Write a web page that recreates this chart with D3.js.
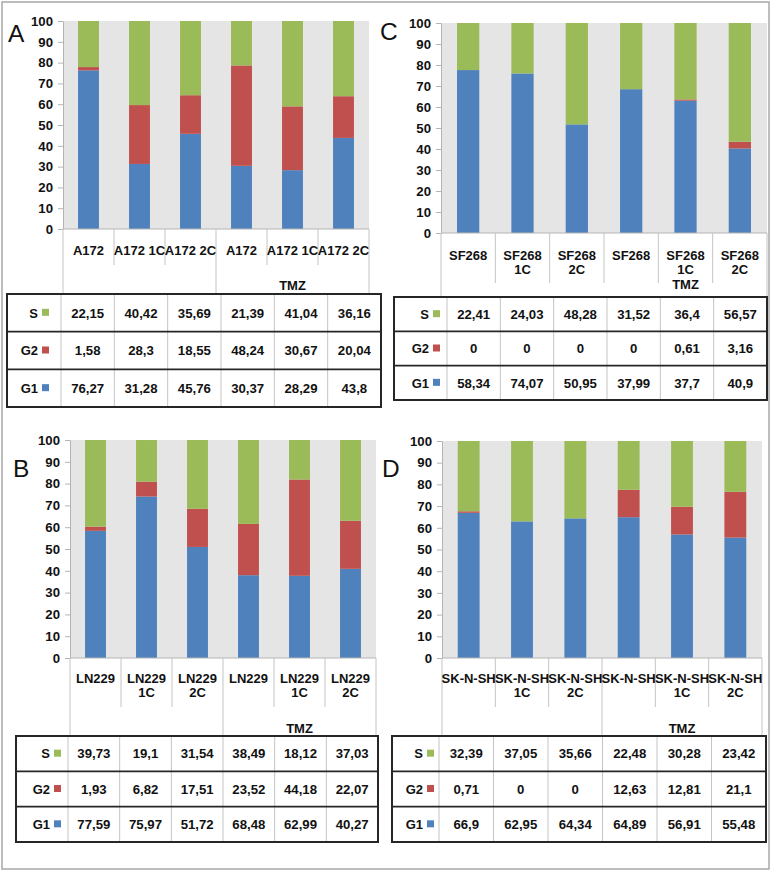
<!DOCTYPE html>
<html><head><meta charset="utf-8">
<script src="https://cdn.jsdelivr.net/npm/d3@7/dist/d3.min.js"></script>
<style>
html,body{margin:0;padding:0;background:#fff;}
svg{display:block;font-family:"Liberation Sans",Arial,sans-serif;}
</style></head>
<body><svg id="c" width="772" height="872"></svg>
<script>
// ---------- data ----------
const phases = ["S", "G2", "G1"];
const stackKeys = ["G1", "G2", "S"];
const yTicks = [0, 10, 20, 30, 40, 50, 60, 70, 80, 90, 100];

const catsA = ["A172", "A172 1C", "A172 2C", "A172", "A172 1C", "A172 2C"];
const catsB = ["LN229", "LN229\n1C", "LN229\n2C", "LN229", "LN229\n1C", "LN229\n2C"];
const catsC = ["SF268", "SF268\n1C", "SF268\n2C", "SF268", "SF268\n1C\nTMZ", "SF268\n2C"];
const catsD = ["SK-N-SH", "SK-N-SH\n1C", "SK-N-SH\n2C", "SK-N-SH", "SK-N-SH\n1C", "SK-N-SH\n2C"];
const groupLabel = "TMZ";

// table values (as printed)
const tableA_S  = [22.15, 40.42, 35.69, 21.39, 41.04, 36.16];
const tableA_G2 = [1.58, 28.3, 18.55, 48.24, 30.67, 20.04];
const tableA_G1 = [76.27, 31.28, 45.76, 30.37, 28.29, 43.8];

const tableC_S  = [22.41, 24.03, 48.28, 31.52, 36.4, 56.57];
const tableC_G2 = [0, 0, 0, 0, 0.61, 3.16];
const tableC_G1 = [58.34, 74.07, 50.95, 37.99, 37.7, 40.9];

const tableB_S  = [39.73, 19.1, 31.54, 38.49, 18.12, 37.03];
const tableB_G2 = [1.93, 6.82, 17.51, 23.52, 44.18, 22.07];
const tableB_G1 = [77.59, 75.97, 51.72, 68.48, 62.99, 40.27];

const tableD_S  = [32.39, 37.05, 35.66, 22.48, 30.28, 23.42];
const tableD_G2 = [0.71, 0, 0, 12.63, 12.81, 21.1];
const tableD_G1 = [66.9, 62.95, 64.34, 64.89, 56.91, 55.48];

// bar values (as drawn)
const barsA_G1 = [76.27, 31.28, 45.76, 30.37, 28.29, 43.8];
const barsA_G2 = [1.58, 28.3, 18.55, 48.24, 30.67, 20.04];
const barsA_S  = [22.15, 40.42, 35.69, 21.39, 41.04, 36.16];

const barsB_G1 = [58.34, 74.07, 50.95, 37.99, 37.7, 40.9];
const barsB_G2 = [1.93, 6.82, 17.51, 23.52, 44.18, 22.07];
const barsB_S  = [39.73, 19.1, 31.54, 38.49, 18.12, 37.03];

const barsC_G1 = [77.59, 75.97, 51.72, 68.48, 62.99, 40.27];
const barsC_G2 = [0, 0, 0, 0, 0.61, 3.16];
const barsC_S  = [22.41, 24.03, 48.28, 31.52, 36.4, 56.57];

const barsD_G1 = [66.9, 62.95, 64.34, 64.89, 56.91, 55.48];
const barsD_G2 = [0.71, 0, 0, 12.63, 12.81, 21.1];
const barsD_S  = [32.39, 37.05, 35.66, 22.48, 30.28, 23.42];

// ---------- styles ----------
const colors = {G1: "#4F81BD", G2: "#C0504D", S: "#9BBB59"};
const plotBg = "#e5e5e5";
const axisGray = "#b4b4b4";
const sepGray = "#c4c4c4";
const dark = "#262626";

const panels = [
  {letter: "A", lx: 8, ly: 42, cats: catsA, grouped: true,
   bars: {G1: barsA_G1, G2: barsA_G2, S: barsA_S},
   table: {S: tableA_S, G2: tableA_G2, G1: tableA_G1},
   px0: 63, px1: 369, py0: 21, py1: 229, labY: 250, innerBottom: 265, grpY: 285, tableTop: 294,
   tx0: 7, tx1: 381, tlab: 61, ty1: 407, gap: 12},
  {letter: "C", lx: 380, ly: 40, cats: catsC, grouped: false,
   bars: {G1: barsC_G1, G2: barsC_G2, S: barsC_S},
   table: {S: tableC_S, G2: tableC_G2, G1: tableC_G1},
   px0: 441, px1: 767, py0: 23, py1: 233, labY: 255, innerBottom: 283, grpY: 0, tableTop: 297,
   tx0: 394, tx1: 767, tlab: 447, ty1: 400, gap: 7},
  {letter: "B", lx: 13, ly: 477, cats: catsB, grouped: true,
   bars: {G1: barsB_G1, G2: barsB_G2, S: barsB_S},
   table: {S: tableB_S, G2: tableB_G2, G1: tableB_G1},
   px0: 70, px1: 376, py0: 440, py1: 658, labY: 678, innerBottom: 707, grpY: 728, tableTop: 736,
   tx0: 16, tx1: 378, tlab: 68, ty1: 842, gap: 7},
  {letter: "D", lx: 382, ly: 477, cats: catsD, grouped: true,
   bars: {G1: barsD_G1, G2: barsD_G2, S: barsD_S},
   table: {S: tableD_S, G2: tableD_G2, G1: tableD_G1},
   px0: 442, px1: 762, py0: 441, py1: 658, labY: 678, innerBottom: 707, grpY: 728, tableTop: 736,
   tx0: 392, tx1: 766, tlab: 439, ty1: 842, gap: 5}
];

const svg = d3.select("#c");
svg.append("rect").attr("x", 2).attr("y", 2).attr("width", 767).attr("height", 867)
  .attr("fill", "none").attr("stroke", "#a8a8a8").attr("stroke-width", 1.5);

const fmt = v => String(v).replace(".", ",");

panels.forEach(p => {
  const g = svg.append("g");
  const n = p.cats.length;
  const x = d3.scaleBand().domain(d3.range(n)).range([p.px0, p.px1]).padding(0);
  const y = d3.scaleLinear().domain([0, 100]).range([p.py1, p.py0]);
  const bw = x.bandwidth();

  // letter
  g.append("text").attr("x", p.lx).attr("y", p.ly).attr("font-size", 24.5).attr("fill", "#111").text(p.letter);

  // plot background
  g.append("rect").attr("x", p.px0).attr("y", p.py0).attr("width", p.px1 - p.px0).attr("height", p.py1 - p.py0)
    .attr("fill", plotBg);

  // stacked bars
  const rows = d3.range(n).map(i => ({i, G1: p.bars.G1[i], G2: p.bars.G2[i], S: p.bars.S[i]}));
  const series = d3.stack().keys(stackKeys)(rows);
  g.selectAll(null).data(series).join("g").attr("fill", d => colors[d.key])
    .selectAll("rect").data(d => d).join("rect")
    .attr("x", d => x(d.data.i) + bw * 0.295)
    .attr("width", bw * 0.41)
    .attr("y", d => y(d[1]))
    .attr("height", d => Math.max(0, y(d[0]) - y(d[1])));

  // y axis
  const ax = g.append("g").attr("transform", `translate(${p.px0},0)`)
    .call(d3.axisLeft(y).tickValues(yTicks).tickSize(5).tickSizeOuter(0).tickPadding(5));
  ax.select(".domain").attr("stroke", axisGray);
  ax.selectAll(".tick line").attr("stroke", axisGray);
  ax.selectAll(".tick text").attr("font-size", 13.2).attr("font-weight", "bold").attr("fill", "#111")
    .attr("font-family", "Liberation Sans, Arial, sans-serif");

  // category axis lines
  g.append("line").attr("x1", p.px0).attr("x2", p.px1).attr("y1", p.py1).attr("y2", p.py1)
    .attr("stroke", axisGray);
  d3.range(n + 1).forEach(k => {
    const xx = k < n ? x(k) : p.px1;
    const long = k === 0 || k === n || (p.grouped && k === n / 2);
    g.append("line").attr("x1", xx).attr("x2", xx).attr("y1", p.py1)
      .attr("y2", long ? p.tableTop : p.innerBottom).attr("stroke", sepGray);
  });

  // category labels
  p.cats.forEach((c, i) => {
    const lines = c.split("\n");
    const t = g.append("text").attr("x", x(i) + bw / 2).attr("y", p.labY)
      .attr("text-anchor", "middle").attr("font-size", 13).attr("font-weight", "bold").attr("fill", "#111");
    lines.forEach((ln, j) => {
      t.append("tspan").attr("x", x(i) + bw / 2).attr("y", p.labY + j * 14.5).attr("dy", "0.36em").text(ln);
    });
  });
  if (p.grouped) {
    g.append("text").attr("x", (x(n / 2) + p.px1) / 2).attr("y", p.grpY).attr("dy", "0.36em")
      .attr("text-anchor", "middle").attr("font-size", 13).attr("font-weight", "bold").attr("fill", "#111")
      .text(groupLabel);
  }

  // table
  const ty0 = p.tableTop;
  const rh = (p.ty1 - ty0) / phases.length;
  const cw = (p.tx1 - p.tlab) / n;
  g.append("rect").attr("x", p.tx0).attr("y", ty0).attr("width", p.tx1 - p.tx0).attr("height", p.ty1 - ty0)
    .attr("fill", "#fff");
  d3.range(1, n + 1).forEach(k => {
    const xx = p.tlab + (k - 1) * cw;
    g.append("line").attr("x1", xx).attr("x2", xx).attr("y1", ty0).attr("y2", p.ty1).attr("stroke", sepGray);
  });
  phases.forEach((ph, r) => {
    const cy = ty0 + rh * (r + 0.5);
    if (r > 0) {
      g.append("line").attr("x1", p.tx0).attr("x2", p.tx1).attr("y1", ty0 + rh * r).attr("y2", ty0 + rh * r)
        .attr("stroke", dark).attr("stroke-width", 1.6);
    }
    const sqR = p.tlab - p.gap;
    g.append("rect").attr("x", sqR - 7).attr("y", cy - 4).attr("width", 7).attr("height", 7).attr("fill", colors[ph]);
    g.append("text").attr("x", sqR - 11).attr("y", cy).attr("dy", "0.36em").attr("text-anchor", "end")
      .attr("font-size", 13).attr("font-weight", "bold").attr("fill", "#111").text(ph);
    p.table[ph].forEach((v, i) => {
      g.append("text").attr("x", p.tlab + cw * (i + 0.5)).attr("y", cy).attr("dy", "0.36em")
        .attr("text-anchor", "middle").attr("font-size", 13.2).attr("font-weight", "bold").attr("fill", "#111")
        .text(fmt(v));
    });
  });
  g.append("rect").attr("x", p.tx0).attr("y", ty0).attr("width", p.tx1 - p.tx0).attr("height", p.ty1 - ty0)
    .attr("fill", "none").attr("stroke", dark).attr("stroke-width", 2);
});
</script>
</body></html>
